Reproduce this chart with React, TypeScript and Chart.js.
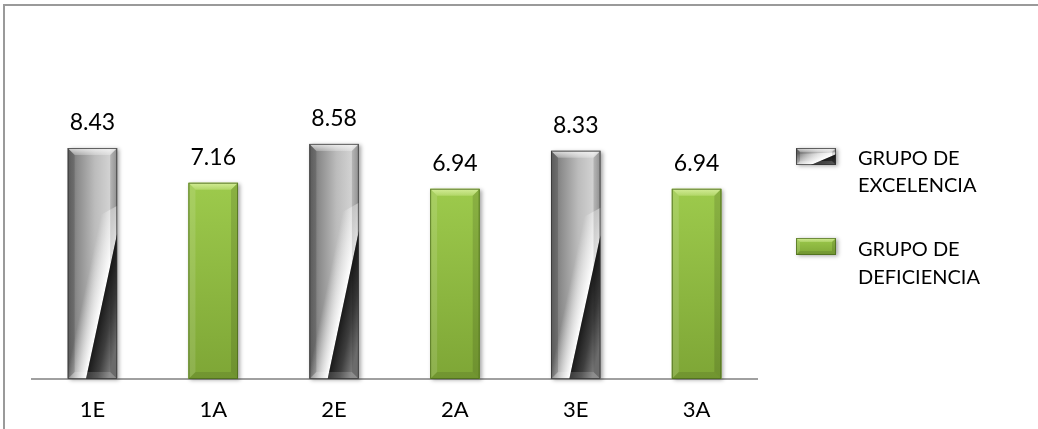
import React, { useEffect, useRef } from "react";
import { Chart, registerables } from "chart.js";

Chart.register(...registerables);

const categories = ["1E", "1A", "2E", "2A", "3E", "3A"];
const excelencia = [8.43, null, 8.58, null, 8.33, null];
const deficiencia = [null, 7.16, null, 6.94, null, 6.94];
const legendLines = [
  ["GRUPO DE", "EXCELENCIA"],
  ["GRUPO DE", "DEFICIENCIA"],
];
const yMin = 0;
const yMax = 10;

const FONT = "Lato, 'Open Sans', sans-serif";

function drawGray(ctx: CanvasRenderingContext2D, x0: number, top: number, w: number, h: number, bv: number) {
  ctx.save();
  ctx.shadowColor = "rgba(0,0,0,0.35)";
  ctx.shadowBlur = 4;
  ctx.shadowOffsetX = 2;
  ctx.shadowOffsetY = 1;
  ctx.fillStyle = "#9a9a9a";
  ctx.fillRect(x0, top, w, h);
  ctx.restore();

  ctx.save();
  ctx.beginPath();
  ctx.rect(x0, top, w, h);
  ctx.clip();
  const g = ctx.createLinearGradient(x0, 0, x0 + w, 0);
  g.addColorStop(0, "#6a6a6a");
  g.addColorStop(0.2, "#8c8c8c");
  g.addColorStop(0.55, "#bcbcbc");
  g.addColorStop(0.85, "#d2d2d2");
  g.addColorStop(1, "#a4a4a4");
  ctx.fillStyle = g;
  ctx.fillRect(x0, top, w, h);

  const bx = x0 + 0.37 * w;
  const by = top + h;
  const ex = x0 + w;
  const ey = top + h * 0.37;
  const mx = (bx + ex) / 2;
  const my = (by + ey) / 2;
  const dx = ex - bx;
  const dy = ey - by;
  const len = Math.hypot(dx, dy);
  const nx = -dy / len;
  const ny = dx / len;

  // left highlight
  const gl = ctx.createLinearGradient(mx, my, mx - nx * w * 0.4, my - ny * w * 0.4);
  gl.addColorStop(0, "rgba(255,255,255,1)");
  gl.addColorStop(0.35, "rgba(250,250,250,0.7)");
  gl.addColorStop(1, "rgba(255,255,255,0)");
  ctx.fillStyle = gl;
  ctx.beginPath();
  ctx.moveTo(x0, by);
  ctx.lineTo(bx, by);
  ctx.lineTo(ex, ey);
  ctx.lineTo(ex, ey - h * 0.12);
  ctx.lineTo(x0, ey);
  ctx.closePath();
  ctx.fill();

  // right dark region
  const gr = ctx.createLinearGradient(mx, my, mx + nx * w * 0.45, my + ny * w * 0.45);
  gr.addColorStop(0, "#1a1a1a");
  gr.addColorStop(0.5, "#3e3e3e");
  gr.addColorStop(1, "#7a7a7a");
  ctx.fillStyle = gr;
  ctx.beginPath();
  ctx.moveTo(bx, by);
  ctx.lineTo(ex, ey);
  ctx.lineTo(ex, by);
  ctx.closePath();
  ctx.fill();

  // bevels
  const gt = ctx.createLinearGradient(0, top, 0, top + bv);
  gt.addColorStop(0, "rgba(255,255,255,0.75)");
  gt.addColorStop(1, "rgba(255,255,255,0.25)");
  ctx.fillStyle = gt;
  ctx.beginPath();
  ctx.moveTo(x0, top);
  ctx.lineTo(x0 + w, top);
  ctx.lineTo(x0 + w - bv, top + bv);
  ctx.lineTo(x0 + bv, top + bv);
  ctx.closePath();
  ctx.fill();

  ctx.fillStyle = "rgba(0,0,0,0.15)";
  ctx.beginPath();
  ctx.moveTo(x0, top);
  ctx.lineTo(x0 + bv, top + bv);
  ctx.lineTo(x0 + bv, top + h - bv);
  ctx.lineTo(x0, top + h);
  ctx.closePath();
  ctx.fill();

  ctx.fillStyle = "rgba(0,0,0,0.12)";
  ctx.beginPath();
  ctx.moveTo(x0 + w, top);
  ctx.lineTo(x0 + w - bv, top + bv);
  ctx.lineTo(x0 + w - bv, top + h - bv);
  ctx.lineTo(x0 + w, top + h);
  ctx.closePath();
  ctx.fill();

  ctx.fillStyle = "rgba(255,255,255,0.15)";
  ctx.beginPath();
  ctx.moveTo(x0, top + h);
  ctx.lineTo(x0 + bv, top + h - bv);
  ctx.lineTo(x0 + w - bv, top + h - bv);
  ctx.lineTo(x0 + w, top + h);
  ctx.closePath();
  ctx.fill();
  ctx.restore();

  ctx.save();
  ctx.strokeStyle = "rgba(50,50,50,0.75)";
  ctx.lineWidth = 1;
  ctx.strokeRect(x0 + 0.5, top + 0.5, w - 1, h - 1);
  ctx.restore();
}

function drawGreen(ctx: CanvasRenderingContext2D, x0: number, top: number, w: number, h: number, bv: number) {
  ctx.save();
  ctx.shadowColor = "rgba(0,0,0,0.35)";
  ctx.shadowBlur = 4;
  ctx.shadowOffsetX = 2;
  ctx.shadowOffsetY = 1;
  ctx.fillStyle = "#8cb83e";
  ctx.fillRect(x0, top, w, h);
  ctx.restore();

  ctx.save();
  ctx.beginPath();
  ctx.rect(x0, top, w, h);
  ctx.clip();
  const g = ctx.createLinearGradient(0, top, 0, top + h);
  g.addColorStop(0, "#9dca4c");
  g.addColorStop(1, "#7ea636");
  ctx.fillStyle = g;
  ctx.fillRect(x0, top, w, h);

  const gt = ctx.createLinearGradient(0, top, 0, top + bv);
  gt.addColorStop(0, "rgba(225,245,170,0.8)");
  gt.addColorStop(1, "rgba(225,245,170,0.3)");
  ctx.fillStyle = gt;
  ctx.beginPath();
  ctx.moveTo(x0, top);
  ctx.lineTo(x0 + w, top);
  ctx.lineTo(x0 + w - bv, top + bv);
  ctx.lineTo(x0 + bv, top + bv);
  ctx.closePath();
  ctx.fill();

  ctx.fillStyle = "rgba(255,255,255,0.12)";
  ctx.beginPath();
  ctx.moveTo(x0, top);
  ctx.lineTo(x0 + bv, top + bv);
  ctx.lineTo(x0 + bv, top + h - bv);
  ctx.lineTo(x0, top + h);
  ctx.closePath();
  ctx.fill();

  ctx.fillStyle = "rgba(0,0,0,0.12)";
  ctx.beginPath();
  ctx.moveTo(x0 + w, top);
  ctx.lineTo(x0 + w - bv, top + bv);
  ctx.lineTo(x0 + w - bv, top + h - bv);
  ctx.lineTo(x0 + w, top + h);
  ctx.closePath();
  ctx.fill();

  ctx.fillStyle = "rgba(0,0,0,0.1)";
  ctx.beginPath();
  ctx.moveTo(x0, top + h);
  ctx.lineTo(x0 + bv, top + h - bv);
  ctx.lineTo(x0 + w - bv, top + h - bv);
  ctx.lineTo(x0 + w, top + h);
  ctx.closePath();
  ctx.fill();
  ctx.restore();

  ctx.save();
  ctx.strokeStyle = "rgba(70,100,25,0.7)";
  ctx.lineWidth = 1;
  ctx.strokeRect(x0 + 0.5, top + 0.5, w - 1, h - 1);
  ctx.restore();
}

const framePlugin = {
  id: "frame",
  afterDraw(chart: any) {
    const ctx = chart.ctx;
    ctx.save();
    ctx.strokeStyle = "#9a9a9a";
    ctx.lineWidth = 2;
    ctx.beginPath();
    ctx.moveTo(4, chart.height);
    ctx.lineTo(4, 5);
    ctx.lineTo(chart.width, 5);
    ctx.stroke();
    ctx.restore();
  },
};

const barStylePlugin = {
  id: "barStyle",
  afterDatasetsDraw(chart: any) {
    const ctx = chart.ctx;
    chart.data.datasets.forEach((ds: any, di: number) => {
      const meta = chart.getDatasetMeta(di);
      meta.data.forEach((el: any, i: number) => {
        if (ds.data[i] == null) return;
        const { x, y, base, width } = el.getProps(["x", "y", "base", "width"], true);
        const x0 = x - width / 2;
        const h = base - y;
        if (di === 0) drawGray(ctx, x0, y, width, h, 7);
        else drawGreen(ctx, x0, y, width, h, 7);
      });
    });
  },
};

const labelPlugin = {
  id: "valueLabels",
  afterDatasetsDraw(chart: any) {
    const ctx = chart.ctx;
    ctx.save();
    ctx.font = `23px ${FONT}`;
    ctx.fillStyle = "#000";
    ctx.textAlign = "center";
    ctx.textBaseline = "alphabetic";
    chart.data.datasets.forEach((ds: any, di: number) => {
      const meta = chart.getDatasetMeta(di);
      meta.data.forEach((el: any, i: number) => {
        const v = ds.data[i];
        if (v == null) return;
        const { x, y } = el.getProps(["x", "y"], true);
        ctx.fillText(v.toFixed(2), x, y - 18);
      });
    });
    ctx.restore();
  },
};

const legendPlugin = {
  id: "customLegend",
  afterDraw(chart: any) {
    const ctx = chart.ctx;
    const iconX = 796;
    const iconW = 40;
    const iconH = 17;
    const iconTops = [148, 238];
    const textX = 858;
    const baselines = [
      [165, 192],
      [256, 284],
    ];
    drawGray(ctx, iconX, iconTops[0], iconW, iconH, 4);
    drawGreen(ctx, iconX, iconTops[1], iconW, iconH, 4);
    ctx.save();
    ctx.font = `20px ${FONT}`;
    ctx.fillStyle = "#000";
    ctx.textAlign = "left";
    ctx.textBaseline = "alphabetic";
    legendLines.forEach((lines, k) => {
      lines.forEach((t, j) => ctx.fillText(t, textX, baselines[k][j]));
    });
    ctx.restore();
  },
};

export default function App() {
  const ref = useRef<HTMLCanvasElement | null>(null);
  useEffect(() => {
    if (!ref.current) return;
    const chart = new Chart(ref.current, {
      type: "bar",
      data: {
        labels: categories,
        datasets: [
          { label: "GRUPO DE EXCELENCIA", data: excelencia as any, backgroundColor: "#aaaaaa" },
          { label: "GRUPO DE DEFICIENCIA", data: deficiencia as any, backgroundColor: "#8db93e" },
        ],
      },
      options: {
        animation: false,
        responsive: false,
        devicePixelRatio: 1,
        layout: { padding: { left: 32, right: 281, top: 105, bottom: 0 } },
        datasets: { bar: { categoryPercentage: 1, barPercentage: 0.41 } },
        plugins: { legend: { display: false }, tooltip: { enabled: false } },
        scales: {
          x: {
            stacked: true,
            grid: { display: false, drawTicks: false },
            border: { display: true, color: "#a0a0a0", width: 2 },
            ticks: { color: "#000", font: { family: FONT, size: 22 }, padding: 18 },
            afterFit: (s: any) => {
              s.height = 50;
            },
          },
          y: { display: false, stacked: true, min: yMin, max: yMax },
        },
      } as any,
      plugins: [framePlugin, barStylePlugin, labelPlugin, legendPlugin],
    });
    return () => chart.destroy();
  }, []);
  return (
    <div style={{ position: "fixed", left: 0, top: 0, width: 1038, height: 429, background: "#fff" }}>
      <canvas ref={ref} width={1038} height={429} style={{ display: "block" }} />
    </div>
  );
}
